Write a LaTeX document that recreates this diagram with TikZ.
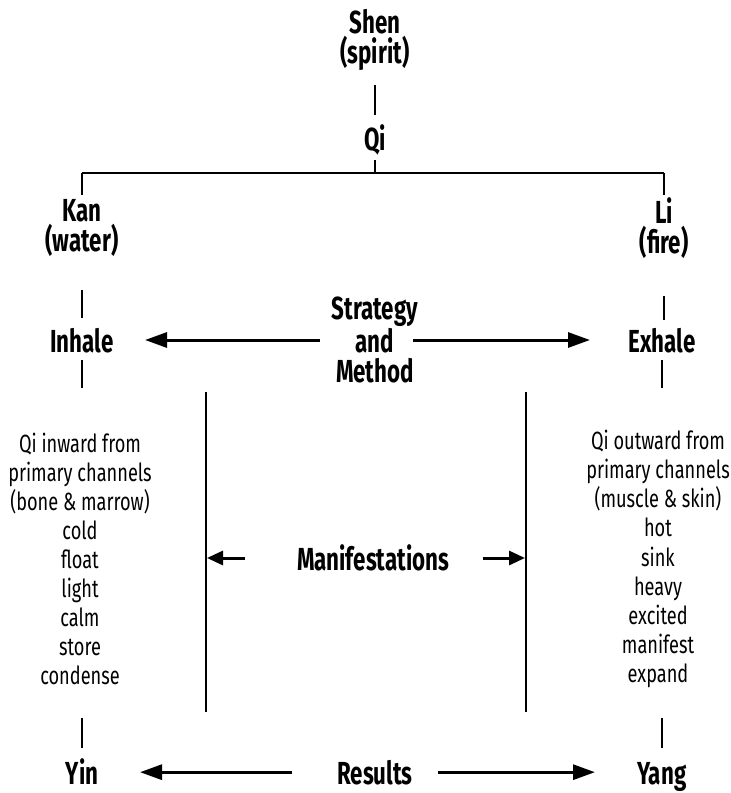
\documentclass[tikz,border=0pt]{standalone}
\usepackage{fontspec}
\setmainfont{Fira Sans}[FakeStretch=0.7]
\newfontfamily\listfont{Fira Sans}[FakeStretch=0.73]
\usetikzlibrary{arrows.meta}
\begin{document}
\begin{tikzpicture}[x=1bp,y=-1bp,
  lbl/.style={font=\bfseries\fontsize{32}{30}\selectfont,align=center,inner sep=0pt},
  lst/.style={font=\listfont\fontsize{25}{29.2}\selectfont,align=center,inner sep=0pt},
  tree/.style={line width=2.6bp},
  arr/.style={line width=3bp,-{Triangle[length=22bp,width=15bp]}},
  marr/.style={line width=3bp,-{Triangle[length=16bp,width=14bp]}},
  vline/.style={line width=2.2bp}]
\useasboundingbox (0,0) rectangle (731,793);
% nodes
\node[lbl] (shen) at (375,40) {Shen\\(spirit)};
\node[lbl,anchor=base] (qi) at (375,150) {Qi};
\node[lbl] (kan) at (82,228) {Kan\\(water)};
\node[lbl] (li) at (664,228) {Li\\(fire)};
\node[lbl,anchor=base] (inhale) at (82,352) {Inhale};
\node[lbl,anchor=base] (exhale) at (662,352) {Exhale};
\node[lbl] (strat) at (375,340) {Strategy\\and\\Method};
\node[lst] (llist) at (80,559) {Qi inward from\\primary channels\\(bone \& marrow)\\cold\\float\\light\\calm\\store\\condense};
\node[lst] (rlist) at (658,559) {Qi outward from\\primary channels\\(muscle \& skin)\\hot\\sink\\heavy\\excited\\manifest\\expand};
\node[lbl] (manif) at (373,558) {Manifestations};
\node[lbl,anchor=base] (yin) at (82,784) {Yin};
\node[lbl,anchor=base] (results) at (375,784) {Results};
\node[lbl,anchor=base] (yang) at (662,784) {Yang};
% tree
\coordinate (barL) at (82,173);
\coordinate (barR) at (664,173);
\coordinate (barM) at (375,173);
\draw[tree,shorten <=45bp,shorten >=35bp] (shen.center) -- (qi.base);
\draw[tree,shorten <=10bp] (qi.base) -- (barM);
\draw[tree] (barL) -- (barR);
\draw[tree,shorten >=33bp] (barL) -- (kan.center);
\draw[tree,shorten >=33bp] (barR) -- (li.center);
\draw[tree,shorten <=62bp,shorten >=34bp] (kan.center) -- (inhale.base);
\draw[tree,shorten <=68bp,shorten >=32bp] (li.center) -- (li.center |- exhale.base);
\draw[tree,shorten <=8bp,shorten >=171bp] (inhale.base) -- (inhale.base |- llist.center);
\draw[tree,shorten <=8bp,shorten >=171bp] (exhale.base) -- (exhale.base |- rlist.center);
\draw[tree,shorten <=159bp,shorten >=36bp] (inhale.base |- llist.center) -- (yin.base);
\draw[tree,shorten <=159bp,shorten >=36bp] (exhale.base |- rlist.center) -- (yang.base);
% strategy arrows
\draw[arr,shorten <=55bp,shorten >=63bp] (strat.center) -- (strat.center -| inhale.base);
\draw[arr,shorten <=38bp,shorten >=72bp] (strat.center) -- (strat.center -| exhale.base);
% vertical lines
\coordinate (vlt) at (206,392);
\coordinate (vlb) at (206,712);
\coordinate (vrt) at (526,392);
\coordinate (vrb) at (526,712);
\draw[vline] (vlt) -- (vlb);
\draw[vline] (vrt) -- (vrb);
\coordinate (ml) at (207,558);
\coordinate (mr) at (525,558);
\draw[marr,shorten <=128bp] (manif.center) -- (ml);
\draw[marr,shorten <=110bp] (manif.center) -- (mr);
% results arrows
\draw[arr,shorten <=83bp,shorten >=58bp] (results.center) -- (results.center -| yin.base);
\draw[arr,shorten <=63bp,shorten >=67bp] (results.center) -- (results.center -| yang.base);
\end{tikzpicture}
\end{document}
